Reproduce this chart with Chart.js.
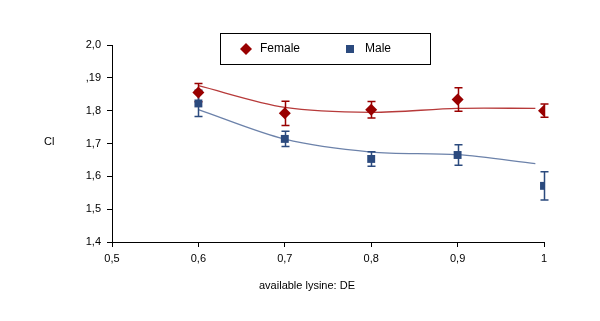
<!DOCTYPE html>
<html>
<head>
<meta charset="utf-8">
<script src="https://cdn.jsdelivr.net/npm/chart.js@4.4.1/dist/chart.umd.min.js"></script>
<style>
  body { margin: 0; background: #fff; }
  #wrap { width: 600px; height: 321px; }
</style>
</head>
<body>
<div id="wrap"><canvas id="ciChart" width="600" height="321"></canvas></div>
<script>
// x positions (available lysine : DE)
const lysine = [0.6, 0.7, 0.8, 0.9, 1.0];

// measured means and error bars
const femaleCI = [1.855, 1.792, 1.803, 1.834, 1.800];
const femaleErr = [0.028, 0.037, 0.025, 0.036, 0.020];
const maleCI = [1.822, 1.714, 1.653, 1.665, 1.571];
const maleErr = [0.040, 0.023, 0.022, 0.031, 0.043];

// fitted curves
const fitX = [0.6, 0.7, 0.8, 0.9, 0.99];
const femaleFit = [1.876, 1.810, 1.795, 1.807, 1.807];
const maleFit = [1.803, 1.713, 1.674, 1.666, 1.639];

// axis ticks
const yTicks = [1.4, 1.5, 1.6, 1.7, 1.8, 1.9, 2.0];
const yTickLabels = ['1,4', '1,5', '1,6', '1,7', '1,8', ',19', '2,0'];
const xTicks = [0.5, 0.6, 0.7, 0.8, 0.9, 1.0];
const xTickLabels = ['0,5', '0,6', '0,7', '0,8', '0,9', '1'];

const RED = '#990000';
const BLUE = '#2b4a7e';
const FONT = '"Liberation Sans", Arial, sans-serif';

const toXY = (xs, ys) => xs.map((x, i) => ({ x: x, y: ys[i] }));

// error bars: chart.js draws datasets last-to-first, so hook in after
// the last fit line (index 2) and before the markers (1, 0)
const errorBars = {
    id: 'errorBars',
    afterDatasetDraw(chart, args) {
        if (args.index !== 2) return;
        const ctx = chart.ctx;
        const xs = chart.scales.x, ys = chart.scales.y;
        const sets = [[femaleCI, femaleErr, RED], [maleCI, maleErr, BLUE]];
        ctx.save();
        ctx.lineWidth = 1.5;
        sets.forEach(([vals, errs, col]) => {
            ctx.strokeStyle = col;
            lysine.forEach((x, i) => {
                const px = Math.round(xs.getPixelForValue(x)) + 0.5;
                const top = ys.getPixelForValue(vals[i] + errs[i]);
                const bot = ys.getPixelForValue(vals[i] - errs[i]);
                ctx.beginPath();
                ctx.moveTo(px, top); ctx.lineTo(px, bot);
                ctx.moveTo(px - 4, top); ctx.lineTo(px + 4, top);
                ctx.moveTo(px - 4, bot); ctx.lineTo(px + 4, bot);
                ctx.stroke();
            });
        });
        ctx.restore();
    }
};

// legend box + axis titles
const extras = {
    id: 'extras',
    afterDraw(chart) {
        const ctx = chart.ctx;
        ctx.save();
        ctx.strokeStyle = '#000';
        ctx.lineWidth = 1;
        ctx.strokeRect(220.5, 33.5, 210, 31);

        // female diamond
        ctx.fillStyle = RED;
        ctx.beginPath();
        ctx.moveTo(246, 43); ctx.lineTo(252, 49); ctx.lineTo(246, 55); ctx.lineTo(240, 49);
        ctx.closePath(); ctx.fill();
        // male square
        ctx.fillStyle = BLUE;
        ctx.fillRect(346, 45, 8, 8);

        ctx.fillStyle = '#000';
        ctx.font = '12px ' + FONT;
        ctx.textBaseline = 'middle';
        ctx.textAlign = 'left';
        ctx.fillText('Female', 260, 49);
        ctx.fillText('Male', 365, 49);

        ctx.font = '11px ' + FONT;
        ctx.fillText('Cl', 44, 142);
        ctx.textAlign = 'center';
        ctx.fillText('available lysine: DE', 307, 286);
        ctx.restore();
    }
};

new Chart(document.getElementById('ciChart'), {
    type: 'scatter',
    data: {
        datasets: [
            {
                label: 'Female', data: toXY(lysine, femaleCI),
                pointStyle: 'rectRot', pointRadius: 6, pointHoverRadius: 6,
                backgroundColor: RED, borderColor: RED, borderWidth: 0
            },
            {
                label: 'Male', data: toXY(lysine, maleCI),
                pointStyle: 'rect', pointRadius: 5.6, pointHoverRadius: 5.6,
                backgroundColor: BLUE, borderColor: BLUE, borderWidth: 0
            },
            {
                type: 'line', label: 'Female fit', data: toXY(fitX, femaleFit),
                borderColor: '#b73a3a', borderWidth: 1.3, pointRadius: 0,
                tension: 0.3, fill: false
            },
            {
                type: 'line', label: 'Male fit', data: toXY(fitX, maleFit),
                borderColor: '#6c82aa', borderWidth: 1.3, pointRadius: 0,
                tension: 0.3, fill: false
            }
        ]
    },
    options: {
        responsive: false,
        animation: false,
        events: [],
        layout: { padding: { left: 0, top: 45, right: 56, bottom: 0 } },
        plugins: { legend: { display: false }, tooltip: { enabled: false } },
        scales: {
            x: {
                type: 'linear', min: 0.5, max: 1.0,
                afterFit: s => { s.height = 79; },
                afterBuildTicks: s => { s.ticks = xTicks.map(v => ({ value: v })); },
                grid: { display: true, drawOnChartArea: false, drawTicks: true, tickLength: 5, color: '#000' },
                border: { display: true, color: '#000', width: 1 },
                ticks: {
                    color: '#000', padding: 5, maxRotation: 0,
                    font: { family: FONT, size: 11 },
                    callback: (v) => xTickLabels[xTicks.findIndex(t => Math.abs(t - v) < 1e-6)]
                }
            },
            y: {
                type: 'linear', min: 1.4, max: 2.0,
                afterFit: s => { s.width = 112; },
                afterBuildTicks: s => { s.ticks = yTicks.map(v => ({ value: v })); },
                grid: { display: true, drawOnChartArea: false, drawTicks: true, tickLength: 5, color: '#000' },
                border: { display: true, color: '#000', width: 1 },
                ticks: {
                    color: '#000', padding: 6,
                    font: { family: FONT, size: 11 },
                    callback: (v) => yTickLabels[yTicks.findIndex(t => Math.abs(t - v) < 1e-6)]
                }
            }
        }
    },
    plugins: [errorBars, extras]
});
</script>
</body>
</html>
